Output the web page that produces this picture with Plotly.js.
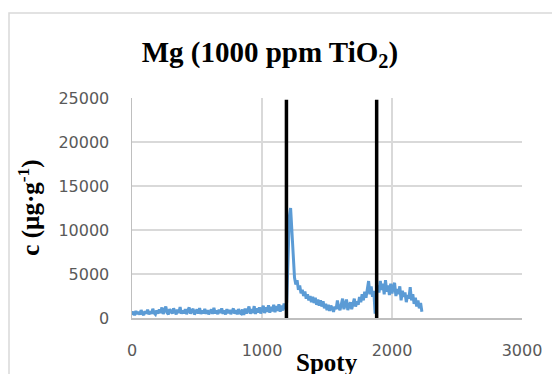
<!DOCTYPE html>
<html>
<head>
<meta charset="utf-8">
<script src="https://cdn.plot.ly/plotly-3.0.1.min.js"></script>
<style>
  html, body { margin: 0; padding: 0; background: #ffffff; }
  #chart { width: 552px; height: 374px; }
</style>
</head>
<body>
<div id="chart"></div>
<script>
// ---- data ----
const spotStart = 0;
const spotStep = 10;
// Mg concentration (µg·g-1), one value every 10 spots, spots 0..1180
const mgBefore = [
  350, 720, 300, 800, 450, 700, 380, 900, 500, 330, 780, 520, 950, 400, 760, 480, 1050, 560, 400, 850,
  500, 980, 560, 1200, 460, 820, 1300, 600, 420, 1000, 700, 500, 1100, 620, 420, 950, 560, 1250, 480, 860,
  520, 1000, 430, 880, 1200, 500, 800, 1050, 400, 760, 960, 520, 1120, 450, 850, 540, 1030, 480, 900, 420,
  800, 980, 460, 1150, 520, 840, 430, 960, 560, 1100, 480, 860, 400, 1000, 540, 920, 450, 820, 1080, 500,
  880, 420, 1020, 560, 480, 960, 360, 1060, 520, 860, 1300, 480, 1000, 560, 1350, 450, 1100, 620, 1200, 520,
  1050, 1400, 560, 1200, 700, 1450, 600, 1280, 760, 1500, 650, 1350, 820, 1550, 720, 1400, 850, 1650, 1000
];
// spots 1190..2230
const mgAfter = [
  1800, 6500, 11500, 12500, 9500, 6200, 4600, 3800, 4300, 3200,
  3700, 2800, 3200, 2500, 3000, 2200, 2700, 2000, 2500, 1800,
  2400, 1700, 2300, 1500, 2100, 1400, 2000, 1300, 1900, 1100,
  1600, 900, 1500, 800, 1400, 1100, 700, 1300, 1000, 2000,
  1200, 900, 1600, 2200, 1000, 1500, 2100, 900, 1400, 1800,
  1000, 1600, 2200, 1300, 1900, 1500, 2400, 1800, 2700, 2000,
  3000, 2300, 3400, 4200, 2700, 3600, 2400, 3100, 500, 2800,
  3700, 2900, 4200, 3200, 3900, 2700, 4300, 3000, 3700, 2600,
  3900, 2800, 3500, 4000, 2500, 3300, 2700, 3600, 2000, 3100,
  2400, 2900, 1800, 2600, 2200, 3500, 2000, 2700, 1600, 2300,
  1300, 2000, 1100, 1700, 700
];
const boundarySpots = [1188, 1882];
const xTickVals = [0, 1000, 2000, 3000];
const yTickVals = [0, 5000, 10000, 15000, 20000, 25000];
const chartTitle = 'Mg (1000 ppm TiO<sub>2</sub>)';
const xTitle = 'Spoty';
const yTitle = 'c (µg·g<sup>-1</sup>)';

// ---- build traces ----
const mgValues = mgBefore.concat(mgAfter);
const spots = mgValues.map((_, i) => spotStart + i * spotStep);

const traces = [{
  x: spots, y: mgValues, type: 'scatter', mode: 'lines',
  line: { color: '#5b9bd5', width: 3 }, hoverinfo: 'skip'
}];
boundarySpots.forEach(b => {
  traces.push({
    x: [b, b], y: [0, 24800], type: 'scatter', mode: 'lines',
    line: { color: '#000000', width: 3.5 }, hoverinfo: 'skip'
  });
});

const tickFont = { family: 'DejaVu Sans', size: 16, color: '#595959' };
const serifBold = { family: 'Liberation Serif', color: '#000000', weight: 'bold' };

const layout = {
  width: 552, height: 374,
  margin: { l: 132, r: 30, t: 98, b: 56 },
  paper_bgcolor: '#ffffff', plot_bgcolor: '#ffffff',
  showlegend: false, hovermode: false,
  title: {
    text: chartTitle,
    font: Object.assign({}, serifBold, { size: 29 }),
    xref: 'container', x: 0.489, xanchor: 'center',
    yref: 'container', y: 0.861, yanchor: 'middle'
  },
  xaxis: {
    range: [0, 3000], tickvals: xTickVals, ticktext: xTickVals.map(String),
    showgrid: true, gridcolor: '#d9d9d9', gridwidth: 1.5,
    showline: true, linecolor: '#bfbfbf', linewidth: 1.5,
    zeroline: false, ticks: '', ticklabelstandoff: 17,
    tickfont: tickFont, fixedrange: true
  },
  yaxis: {
    range: [0, 25000], tickvals: yTickVals, ticktext: yTickVals.map(String),
    showgrid: true, gridcolor: '#d9d9d9', gridwidth: 1.5,
    showline: true, linecolor: '#bfbfbf', linewidth: 1.5,
    zeroline: false, ticks: '', ticklabelstandoff: 18,
    tickfont: tickFont, fixedrange: true
  },
  annotations: [
    {
      text: xTitle, xref: 'paper', yref: 'paper', x: 0.5, y: -0.2,
      xanchor: 'center', yanchor: 'middle', showarrow: false,
      font: Object.assign({}, serifBold, { size: 25 })
    },
    {
      text: yTitle, xref: 'paper', yref: 'paper', x: -0.265, y: 0.5,
      xanchor: 'center', yanchor: 'middle', showarrow: false, textangle: -90,
      font: Object.assign({}, serifBold, { size: 25 })
    }
  ],
  shapes: [{
    type: 'rect', xref: 'paper', yref: 'paper',
    x0: -0.3154, x1: 2, y0: -2, y1: 1.386,
    line: { color: '#d9d9d9', width: 1.5 }, fillcolor: 'rgba(0,0,0,0)', layer: 'below'
  }]
};

Plotly.newPlot('chart', traces, layout, { staticPlot: true, displayModeBar: false });
</script>
</body>
</html>
